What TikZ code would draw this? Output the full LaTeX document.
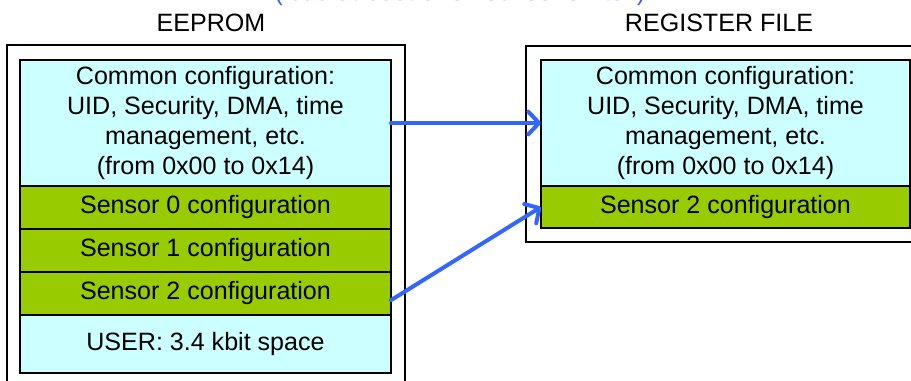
\documentclass[tikz,border=0pt]{standalone}
\usepackage{fontspec}
\setmainfont{Liberation Sans}
\usetikzlibrary{positioning,arrows.meta}
\definecolor{cfgcyan}{HTML}{CCFFFF}
\definecolor{cfggreen}{HTML}{99CC00}
\definecolor{cfgblue}{HTML}{3366FF}
\tikzset{
  memrow/.style={draw=black,line width=0.9pt,inner sep=0pt,outer sep=0pt,align=center,
    font=\fontsize{18.8}{22.5}\selectfont},
  common/.style={memrow,fill=cfgcyan,minimum height=94.5pt},
  sensor/.style={memrow,fill=cfggreen,minimum height=32.25pt},
  memtitle/.style={anchor=base,font=\fontsize{18.8}{22.5}\selectfont},
  copyarrow/.style={draw=cfgblue,line width=3pt,line cap=round,
    -{Straight Barb[length=8pt,width=17pt,line cap=round,line join=round]}}
}
\begin{document}
\begin{tikzpicture}[x=0.75pt,y=-0.75pt]
\useasboundingbox (0,0) rectangle (911,381);
\clip (0,0) rectangle (911,381);
% note above the picture, cut off at the top
\node[memtitle,text=cfgblue] (note) at (460,1) {(load at boot or on sensor switch)};
% EEPROM
\node[memtitle] (eetitle) at (211,32) {EEPROM};
\draw[line width=0.9pt] (7,45) rectangle (405,400);
\node[common,minimum width=278.25pt,anchor=north west] (eecommon) at (20,60)
  {Common configuration:\\UID, Security, DMA, time\\management, etc.\\(from 0x00 to 0x14)};
\node[sensor,minimum width=278.25pt,below=0pt of eecommon] (eesensA) {Sensor 0 configuration};
\node[sensor,minimum width=278.25pt,below=0pt of eesensA] (eesensB) {Sensor 1 configuration};
\node[sensor,minimum width=278.25pt,below=0pt of eesensB] (eesensC) {Sensor 2 configuration};
\node[memrow,fill=cfgcyan,minimum width=278.25pt,minimum height=43.5pt,below=0pt of eesensC] (eeuser)
  {USER: 3.4 kbit space};
% register file
\node[memtitle] (rftitle) at (719,32) {REGISTER FILE};
\draw[line width=0.9pt] (526,46) rectangle (930,242);
\node[common,minimum width=276.75pt,anchor=north west] (rfcommon) at (541,60)
  {Common configuration:\\UID, Security, DMA, time\\management, etc.\\(from 0x00 to 0x14)};
\node[sensor,minimum width=276.75pt,minimum height=31.5pt,below=0pt of rfcommon] (rfsens)
  {Sensor 2 configuration};
% copies
\draw[copyarrow] (eecommon.east) -- (rfcommon.west);
\draw[copyarrow] ([yshift=-5pt]eesensC.east) -- (rfsens.west);
\end{tikzpicture}
\end{document}
